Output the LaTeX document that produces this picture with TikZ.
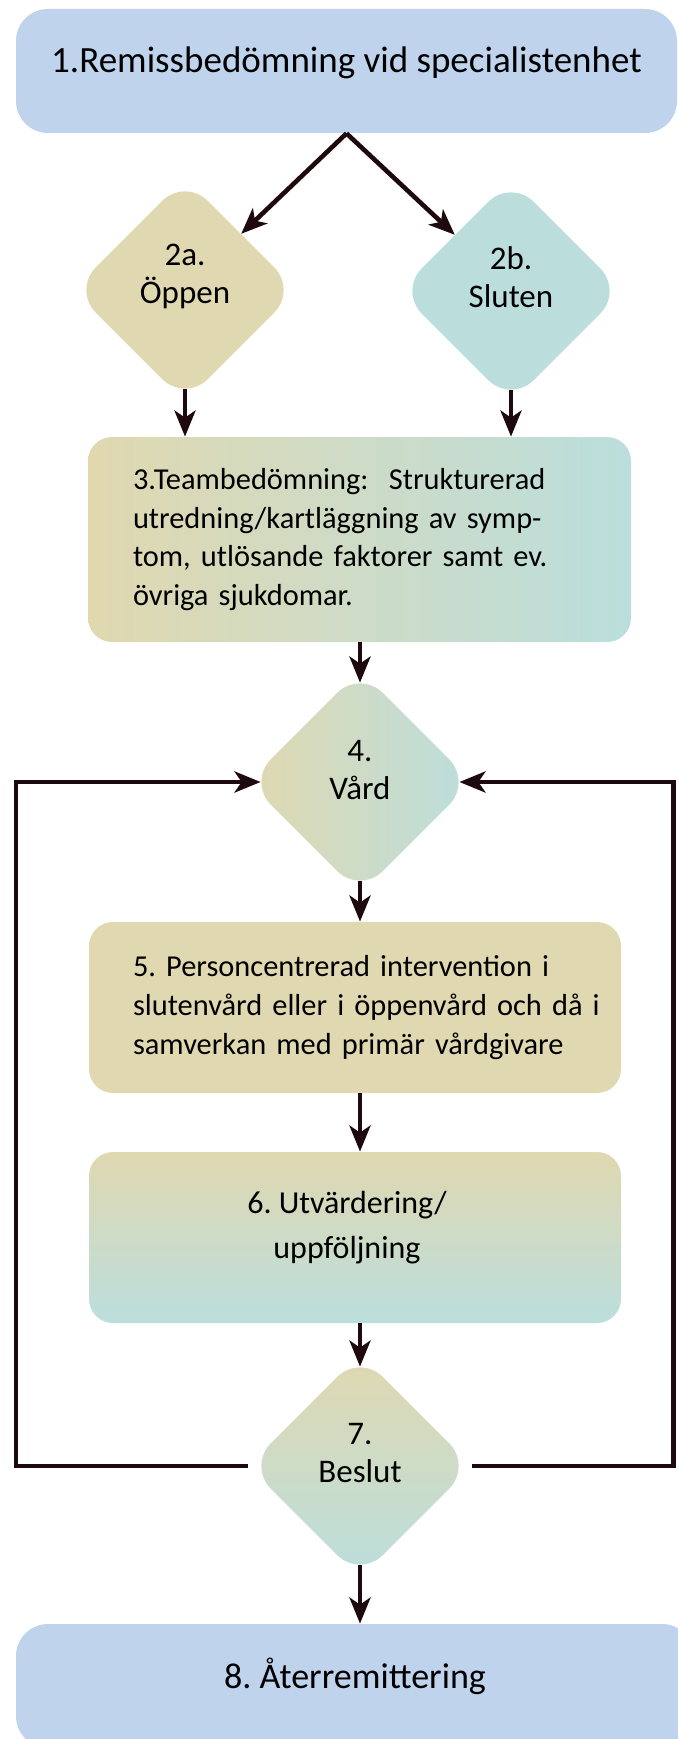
\documentclass[tikz,border=0pt]{standalone}
\usepackage{fontspec}
\setmainfont{Carlito}
\frenchspacing
\usetikzlibrary{shapes.geometric,arrows.meta}
\definecolor{tanfill}{RGB}{224,216,176}
\definecolor{tealfill}{RGB}{187,222,221}
\definecolor{bluefill}{RGB}{192,211,237}
\definecolor{arrowcol}{RGB}{30,10,14}
\begin{document}
\begin{tikzpicture}[x=0.5pt,y=-0.5pt,
  bigbox/.style={rectangle,rounded corners=16pt,fill=bluefill,minimum height=62pt,text height=13pt,text depth=11pt},
  flowbox/.style={rectangle,rounded corners=12pt,inner sep=0pt,font=\fontsize{15.2}{19.3}\selectfont},
  dia/.style={diamond,rounded corners=16pt,minimum width=112pt,minimum height=112pt,inner sep=0pt},
  dtext/.style={align=center,font=\fontsize{16.5}{19}\selectfont},
  arr/.style={-{Stealth[length=13pt,width=10.5pt,inset=3.5pt]},line width=2.3pt,draw=arrowcol}]
\useasboundingbox (0,0) rectangle (677,1739);
% boxes
\node[bigbox,minimum width=330.5pt,font=\fontsize{18.5}{22}\selectfont] (n1) at (346.5,71) {1.Remissbedömning vid specialistenhet};
\node[dia,fill=tanfill] (n2a) at (185,290) {};
\node[dtext] (t2a) at ([yshift=7pt]n2a.center) {2a.\\Öppen};
\node[dia,fill=tealfill] (n2b) at (511,291) {};
\node[dtext] (t2b) at ([yshift=7pt]n2b.center) {2b.\\Sluten};
\node[flowbox,left color=tanfill,middle color=tanfill!55!tealfill,right color=tealfill,minimum width=271.5pt,minimum height=102.5pt,inner xsep=22.5pt,text width=226.5pt,align=left] (n3) at (359.5,539.5)
  {\mbox{3.Teambedömning:\ \ Strukturerad}\\\mbox{utredning/kartläggning av symp-}\\\mbox{tom, utlösande faktorer samt ev.}\\\mbox{övriga sjukdomar.}};
\node[dia,left color=tanfill,middle color=tanfill,right color=tealfill] (n4) at (360,782) {};
\node[dtext] (t4) at ([yshift=6pt]n4.center) {4.\\Vård};
\node[flowbox,fill=tanfill,minimum width=266pt,minimum height=85.5pt,inner xsep=22pt,text width=222pt,align=left] (n5) at (355,1007.5)
  {\mbox{5. Personcentrerad intervention i}\\\mbox{slutenvård eller i öppenvård och då i}\\\mbox{samverkan med primär vårdgivare}};
\node[flowbox,top color=tanfill,bottom color=tealfill,minimum width=266pt,minimum height=85.5pt] (n6) at (355,1237.5) {};
\node[dtext,font=\fontsize{16}{22.5}\selectfont] (t6) at ([xshift=-4pt,yshift=5pt]n6.center) {6. Utvärdering/\\uppföljning};
\node[dia,top color=tanfill,middle color=tanfill!85!tealfill,bottom color=tealfill] (n7) at (360,1466) {};
\node[dtext] (t7) at ([yshift=6.5pt]n7.center) {7.\\Beslut};
\node[bigbox,minimum width=339pt,font=\fontsize{18}{21}\selectfont] (n8) at (355,1686) {8. Återremittering};
% arrows
\draw[arr] (n1.south) -- (n2a.north east);
\draw[arr] (n1.south) -- (n2b.north west);
\draw[arr] ([yshift=6.5pt]n2a.south) -- (n2a |- n3.north);
\draw[arr] ([yshift=6.5pt]n2b.south) -- (n2b |- n3.north);
\draw[arr] (n4 |- n3.south) -- ([yshift=-6.5pt]n4.north);
\draw[arr] ([yshift=6.5pt]n4.south) -- (n4 |- n5.north);
\draw[arr] (n4 |- n5.south) -- (n4 |- n6.north);
\draw[arr] (n7 |- n6.south) -- ([yshift=-6.5pt]n7.north);
\draw[arr] ([yshift=6.5pt]n7.south) -- (n7 |- n8.north);
% way back to 4
\coordinate (lx) at (16,0);
\coordinate (rx) at (673.5,0);
\draw[arr] (n7.west) -- (n7.west -| lx) |- ([xshift=6.5pt]n4.west);
\draw[arr] (n7.east) -- (n7.east -| rx) |- ([xshift=-6.5pt]n4.east);
\end{tikzpicture}
\end{document}
